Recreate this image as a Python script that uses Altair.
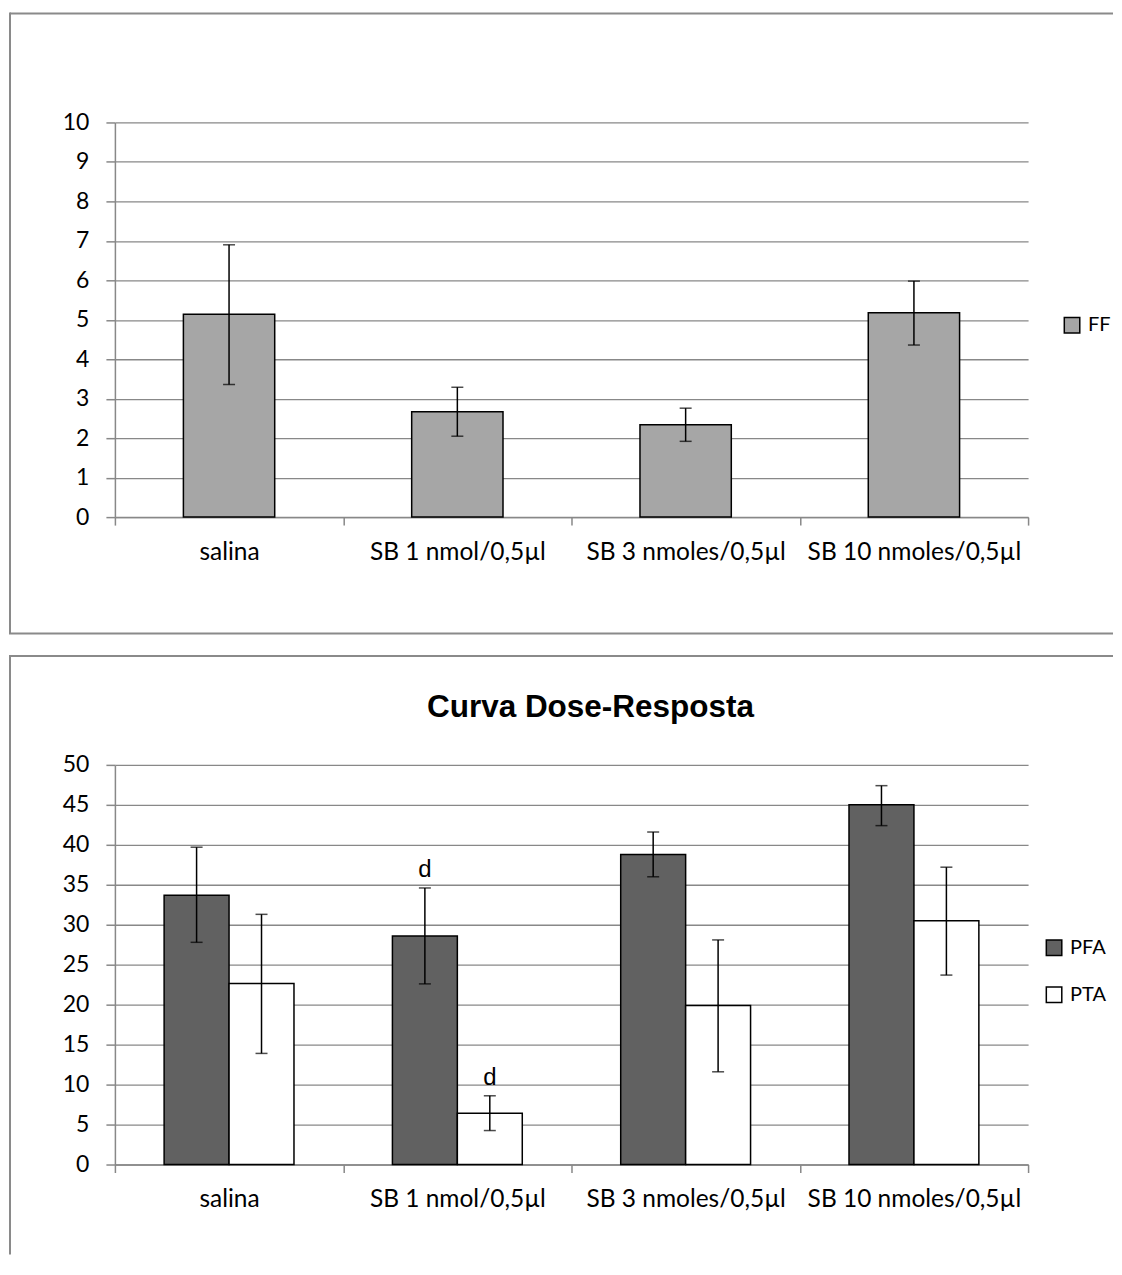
import altair as alt
import pandas as pd

categories = ["salina", "SB 1 nmol/0,5µl", "SB 3 nmoles/0,5µl", "SB 10 nmoles/0,5µl"]

ff_mean = [5.14, 2.67, 2.34, 5.18]
ff_low = [3.36, 2.05, 1.92, 4.36]
ff_high = [6.90, 3.29, 2.76, 5.98]

series = ["PFA", "PTA"]
pfa_mean = [33.7, 28.6, 38.8, 45.0]
pfa_low = [27.8, 22.6, 36.0, 42.4]
pfa_high = [39.7, 34.6, 41.6, 47.4]
pta_mean = [22.65, 6.4, 19.9, 30.5]
pta_low = [13.9, 4.25, 11.6, 23.7]
pta_high = [31.3, 8.6, 28.1, 37.2]

annot_text = ["d", "d"]
annot_series = ["PFA", "PTA"]
annot_cat = [categories[1], categories[1]]

top_ticks = list(range(0, 11, 1))
bottom_ticks = list(range(0, 51, 5))

chart_title = "Curva Dose-Resposta"

W = 914
H_TOP = 395
H_BOT = 400
BORDER = "#8a8a8a"
GRID = "#888888"
FONT = "Lato"
RIGHT = 999

top_df = pd.DataFrame({"cat": categories, "mean": ff_mean, "low": ff_low,
                       "high": ff_high, "series": ["FF"] * 4})
bot_df = pd.DataFrame({
    "cat": categories * 2,
    "series": ["PFA"] * 4 + ["PTA"] * 4,
    "mean": pfa_mean + pta_mean,
    "low": pfa_low + pta_low,
    "high": pfa_high + pta_high,
})
annot_df = pd.DataFrame({"cat": annot_cat, "series": annot_series, "text": annot_text,
                         "high": [pfa_high[1], pta_high[1]]})
one = pd.DataFrame({"a": [0]})


def xenc():
    return alt.X("cat:N", sort=categories,
                 scale=alt.Scale(paddingInner=0, paddingOuter=0),
                 axis=alt.Axis(title=None, labelAngle=0, tickBand="extent", grid=False,
                               labelFont=FONT, labelFontSize=24.5, labelColor="black",
                               labelLimit=400, labelOverlap=False,
                               tickSize=8, labelPadding=15, domainColor=GRID,
                               tickColor=GRID, domainWidth=1.5, tickWidth=1.5))


def yaxis(vals):
    return alt.Axis(title=None, values=vals, grid=True, gridColor=GRID, gridWidth=1.3,
                    labelFont=FONT, labelFontSize=23, labelColor="black",
                    labelOverlap=False,
                    tickSize=9, labelPadding=17, domainColor=GRID, tickColor=GRID,
                    domainWidth=1.5, tickWidth=1.5)


def yenc(field, dom, vals):
    return alt.Y(field, scale=alt.Scale(domain=dom, nice=False), axis=yaxis(vals))


def borders(bottom_rel, closed):
    layers = [
        alt.Chart(one).mark_rule(color=BORDER, strokeWidth=2).encode(
            x=alt.value(-105), x2=alt.value(RIGHT), y=alt.value(-109)),
        alt.Chart(one).mark_rule(color=BORDER, strokeWidth=2).encode(
            x=alt.value(-105), y=alt.value(-110), y2=alt.value(bottom_rel)),
    ]
    if closed:
        layers.append(alt.Chart(one).mark_rule(color=BORDER, strokeWidth=2).encode(
            x=alt.value(-106), x2=alt.value(RIGHT), y=alt.value(bottom_rel)))
    return layers


def legend(x, y, rowpad=0):
    return alt.Legend(title=None, orient="none", legendX=x, legendY=y,
                      symbolType="square", symbolSize=240,
                      symbolStrokeColor="black", symbolStrokeWidth=1.5,
                      labelFont=FONT, labelFontSize=20, labelColor="black",
                      labelOffset=6, rowPadding=rowpad, padding=0)


# ---------- top panel ----------
TD = [0, 10]
top_bars = alt.Chart(top_df).mark_bar(stroke="black", strokeWidth=1.5,
                                      width=alt.RelativeBandSize(0.4)).encode(
    x=xenc(), y=yenc("mean:Q", TD, top_ticks),
    fill=alt.Fill("series:N", scale=alt.Scale(domain=["FF"], range=["#a6a6a6"]),
                  legend=legend(948, 193)))
top_err = alt.Chart(top_df).mark_rule(color="black", strokeWidth=1.5).encode(
    x=xenc(), y=yenc("low:Q", TD, top_ticks), y2="high:Q")
top_cap_lo = alt.Chart(top_df).mark_tick(color="black", thickness=1.5, size=12).encode(
    x=xenc(), y=yenc("low:Q", TD, top_ticks))
top_cap_hi = alt.Chart(top_df).mark_tick(color="black", thickness=1.5, size=12).encode(
    x=xenc(), y=yenc("high:Q", TD, top_ticks))

top = alt.layer(*borders(511.5, True), top_bars, top_err, top_cap_lo, top_cap_hi).properties(
    width=W, height=H_TOP)

# ---------- bottom panel ----------
BD = [0, 50]
xoff = alt.XOffset("series:N", sort=series, scale=alt.Scale(paddingInner=0, paddingOuter=0.758))

bot_bars = alt.Chart(bot_df).mark_bar(stroke="black", strokeWidth=1.5).encode(
    x=xenc(), xOffset=xoff, y=yenc("mean:Q", BD, bottom_ticks),
    fill=alt.Fill("series:N", sort=series,
                  scale=alt.Scale(domain=series, range=["#616161", "#ffffff"]),
                  legend=legend(930, 173, 25)))
bot_err = alt.Chart(bot_df).mark_rule(color="black", strokeWidth=1.5).encode(
    x=xenc(), xOffset=xoff, y=yenc("low:Q", BD, bottom_ticks), y2="high:Q")
bot_cap_lo = alt.Chart(bot_df).mark_tick(color="black", thickness=1.5, size=12).encode(
    x=xenc(), xOffset=xoff, y=yenc("low:Q", BD, bottom_ticks))
bot_cap_hi = alt.Chart(bot_df).mark_tick(color="black", thickness=1.5, size=12).encode(
    x=xenc(), xOffset=xoff, y=yenc("high:Q", BD, bottom_ticks))
bot_annot = alt.Chart(annot_df).mark_text(font="Liberation Sans", fontSize=24, color="black",
                                          baseline="alphabetic", dy=-11).encode(
    x=xenc(), xOffset=xoff, y=yenc("high:Q", BD, bottom_ticks), text="text:N")
bot_title = alt.Chart(one).mark_text(font="Liberation Sans", fontSize=31.5, fontWeight="bold",
                                     color="black", baseline="alphabetic", align="center").encode(
    x=alt.value(476), y=alt.value(-48), text=alt.value(chart_title))

bottom = alt.layer(*borders(490, False), bot_bars, bot_err, bot_cap_lo, bot_cap_hi,
                   bot_annot, bot_title).properties(width=W, height=H_BOT)

chart = alt.vconcat(top, bottom, spacing=19).resolve_scale(
    fill="independent", x="independent", y="independent", xOffset="independent"
).properties(
    padding={"left": 0, "top": 3, "right": 0, "bottom": 0}, background="white"
).configure_view(stroke=None)

chart.save("out.html", embed_options={"renderer": "svg", "actions": False})
